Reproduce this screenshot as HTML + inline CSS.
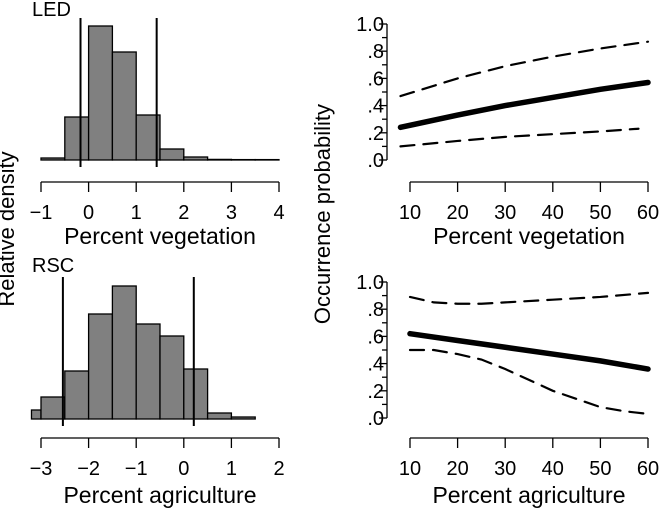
<!DOCTYPE html>
<html><head><meta charset="utf-8"><style>
body{margin:0;background:#fff}
svg{display:block;font-family:"Liberation Sans",Arial,sans-serif}
</style></head><body>
<svg id="c" width="661" height="509" viewBox="0 0 661 509" xmlns="http://www.w3.org/2000/svg">
<text x="14" y="229" font-size="22" text-anchor="middle" transform="rotate(-90 14 229)">Relative density</text>
<text x="330" y="214" font-size="22" text-anchor="middle" transform="rotate(-90 330 214)">Occurrence probability</text>
</svg>
<script>
// Histogram LED
const ledBinStarts=[-1,-0.5,0,0.5,1,1.5,2,2.5,3,3.5];
const ledHeights=[2,43,134,108,45,11,3,0.6,0.4,0.4];
const ledLines=[-0.17,1.43];
const ledTicks=[-1,0,1,2,3,4];
// Histogram RSC
const rscBinStarts=[-3.2,-3,-2.5,-2,-1.5,-1,-0.5,0,0.5,1];
const rscBinEnds=[-3,-2.5,-2,-1.5,-1,-0.5,0,0.5,1,1.5];
const rscHeights=[9,22,48,105,133,95,83,50,6,2];
const rscLines=[-2.54,0.21];
const rscTicks=[-3,-2,-1,0,1,2];
// Curves vegetation
const vegX=[8,20,30,40,50,60];
const vegMean=[0.24,0.33,0.40,0.46,0.52,0.57];
const vegUpper=[0.47,0.60,0.69,0.76,0.82,0.87];
const vegLowerX=[8,20,30,40,50,58];
const vegLower=[0.10,0.14,0.17,0.19,0.21,0.23];
// Curves agriculture
const agrX=[10,20,30,40,50,60];
const agrMean=[0.62,0.57,0.52,0.47,0.42,0.36];
const agrUpperX=[10,15,20,25,30,40,50,60];
const agrUpper=[0.89,0.85,0.84,0.84,0.85,0.87,0.89,0.92];
const agrLowerX=[10,15,20,25,30,35,40,45,50,55,60];
const agrLower=[0.50,0.50,0.47,0.43,0.36,0.28,0.20,0.14,0.08,0.05,0.03];
const xTicksR=[10,20,30,40,50,60];
const yTicks=[0,0.2,0.4,0.6,0.8,1.0];
const yLabels=[".0",".2",".4",".6",".8","1.0"];

const svg=document.getElementById('c');
const NS="http://www.w3.org/2000/svg";
function mk(t,a,p){const e=document.createElementNS(NS,t);for(const k in a)e.setAttribute(k,a[k]);(p||svg).appendChild(e);return e;}

function hist(name,x0,x1,starts,ends,heights,lines,ticks,base,lineTop,axisY,title,label,labelY,titleY){
  const sx=v=>41+(v-x0)/(x1-x0)*238;
  const g=mk('g',{});
  
  
  starts.forEach((s,i)=>{
    const e=ends?ends[i]:s+0.5;
    const r=mk('rect',{x:sx(s),y:base-heights[i],width:sx(e)-sx(s),height:heights[i],fill:'#808080',stroke:'#000','stroke-width':1.3},g);
    
    
  });
  lines.forEach(v=>{
    const l=mk('line',{x1:sx(v),x2:sx(v),y1:lineTop,y2:base+7,stroke:'#000','stroke-width':2},g);
    
    
  });
  const ax=mk('g',{},g);
  
  
  mk('line',{x1:sx(ticks[0]),x2:sx(ticks[ticks.length-1]),y1:axisY,y2:axisY,stroke:'#000','stroke-width':1.3},ax);
  ticks.forEach(t=>{
    mk('line',{x1:sx(t),x2:sx(t),y1:axisY,y2:axisY+10,stroke:'#000','stroke-width':1.3},ax);
    const tx=mk('text',{x:sx(t),y:axisY+37,'font-size':20,'text-anchor':'middle'},ax);
    tx.textContent=t<0?'\u2212'+(-t):String(t);
    
    
  });
  const ti=mk('text',{x:160,y:titleY,'font-size':23,'text-anchor':'middle'},g);
  ti.textContent=title;
  
  
  const lb=mk('text',{x:32,y:labelY,'font-size':20},g);
  lb.textContent=label;
  
  
}
hist('histogram-led',-1,4,ledBinStarts,null,ledHeights,ledLines,ledTicks,160,18,182,'Percent vegetation','LED',16,244);
hist('histogram-rsc',-3,2,rscBinStarts,rscBinEnds,rscHeights,rscLines,rscTicks,419,277,438,'Percent agriculture','RSC',272,503);

function curve(name,y1,y0,axisY,series,title,titleY){
  const sx=v=>410+(v-10)/50*238;
  const sy=v=>y0-(y0-y1)*v;
  const g=mk('g',{});
  
  
  const ya=mk('g',{},g);
  
  
  mk('line',{x1:387,x2:387,y1:sy(1),y2:sy(0),stroke:'#000','stroke-width':1.3},ya);
  for(let i=0;i<=10;i++){const v=i/10;mk('line',{x1:387,x2:i%2==0?379:382,y1:sy(v),y2:sy(v),stroke:'#000','stroke-width':1.3},ya);}
  yTicks.forEach((v,i)=>{
    const t=mk('text',{x:384,y:sy(v)+7,'font-size':20,'text-anchor':'end'},ya);
    t.textContent=yLabels[i];
    
    
  });
  const xa=mk('g',{},g);
  
  
  mk('line',{x1:sx(10),x2:sx(60),y1:axisY,y2:axisY,stroke:'#000','stroke-width':1.3},xa);
  xTicksR.forEach(v=>{
    mk('line',{x1:sx(v),x2:sx(v),y1:axisY,y2:axisY+10,stroke:'#000','stroke-width':1.3},xa);
    const t=mk('text',{x:sx(v),y:axisY+37,'font-size':20,'text-anchor':'middle'},xa);
    t.textContent=v;
    
    
  });
  series.forEach(s=>{
    const d=s.x.map((x,i)=>(i?'L':'M')+sx(x)+','+sy(s.y[i])).join(' ');
    const p=mk('path',{d:d,fill:'none',stroke:'#000','stroke-width':s.w,'stroke-dasharray':s.dash||'none','stroke-linecap':'round'},g);
    
    
  });
  const ti=mk('text',{x:529,y:titleY,'font-size':23,'text-anchor':'middle'},g);
  ti.textContent=title;
  
  
}
curve('curve-vegetation',24,160,182,[
  {n:'mean-line',x:vegX,y:vegMean,w:5.5},
  {n:'upper-ci-line',x:vegX,y:vegUpper,w:2.2,dash:'14 9'},
  {n:'lower-ci-line',x:vegLowerX,y:vegLower,w:2.2,dash:'14 9'}],'Percent vegetation',244);
curve('curve-agriculture',282,418,438,[
  {n:'mean-line',x:agrX,y:agrMean,w:5.5},
  {n:'upper-ci-line',x:agrUpperX,y:agrUpper,w:2.2,dash:'14 9'},
  {n:'lower-ci-line',x:agrLowerX,y:agrLower,w:2.2,dash:'14 9'}],'Percent agriculture',503);
</script>
</body></html>
